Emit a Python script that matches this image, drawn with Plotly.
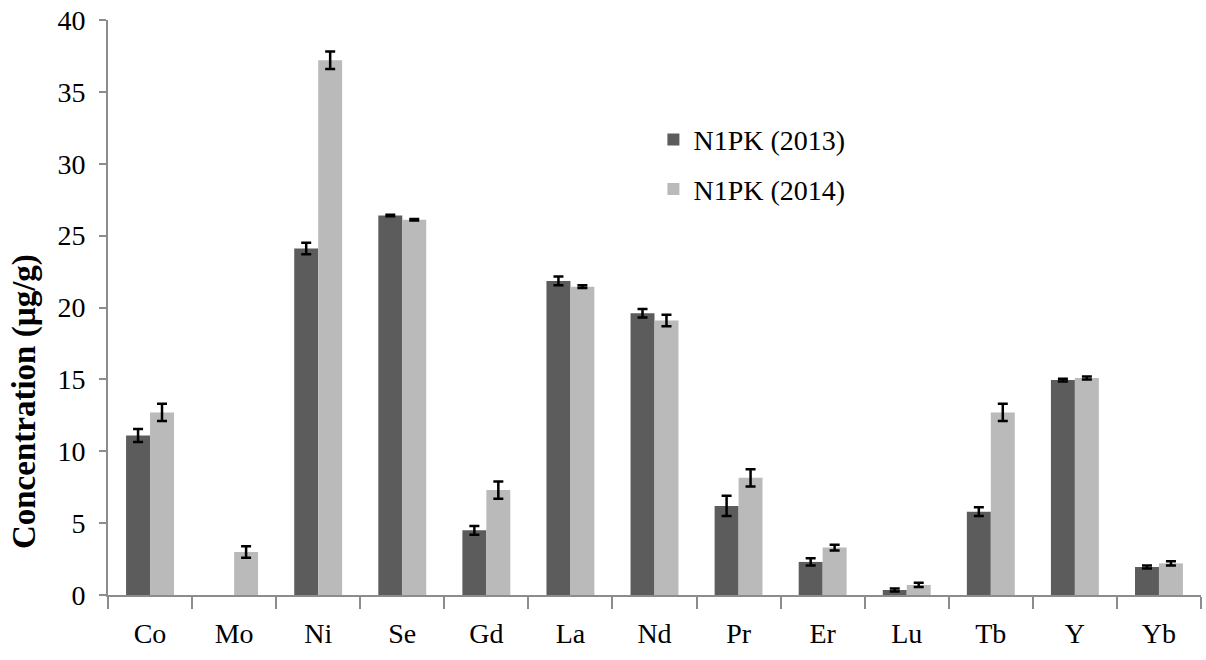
import plotly.graph_objects as go

categories = ["Co", "Mo", "Ni", "Se", "Gd", "La", "Nd", "Pr", "Er", "Lu", "Tb", "Y", "Yb"]
vals_2013 = [11.1, None, 24.1, 26.4, 4.5, 21.85, 19.6, 6.2, 2.3, 0.35, 5.8, 14.95, 1.95]
err_2013 = [0.45, None, 0.4, 0.05, 0.3, 0.3, 0.3, 0.7, 0.25, 0.1, 0.3, 0.1, 0.1]
vals_2014 = [12.7, 3.0, 37.2, 26.1, 7.3, 21.45, 19.1, 8.15, 3.3, 0.7, 12.7, 15.1, 2.2]
err_2014 = [0.6, 0.4, 0.6, 0.05, 0.6, 0.1, 0.4, 0.6, 0.2, 0.15, 0.6, 0.1, 0.15]
y_ticks = [0, 5, 10, 15, 20, 25, 30, 35, 40]

font_family = "Liberation Serif"

fig = go.Figure()
fig.add_trace(go.Bar(
    x=categories, y=vals_2013, name="N1PK (2013)",
    marker=dict(color="#5c5c5c", line=dict(width=0)),
    error_y=dict(type="data", array=err_2013, color="black", thickness=2.5, width=5),
    legendgroup="a",
))
fig.add_trace(go.Bar(
    x=categories, y=vals_2014, name="N1PK (2014)",
    marker=dict(color="#bababa", line=dict(width=0)),
    error_y=dict(type="data", array=err_2014, color="black", thickness=2.5, width=5),
    legendgroup="b",
))

fig.update_layout(
    width=1206, height=660,
    margin=dict(l=108, r=5, t=20, b=65),
    paper_bgcolor="white", plot_bgcolor="white",
    barmode="group", bargap=0.43, bargroupgap=0,
    font=dict(family=font_family, size=28, color="black"),
    showlegend=True,
    legend=dict(
        x=0.499, y=0.835, xanchor="left", yanchor="top",
        font=dict(family=font_family, size=28, color="black"),
        traceorder="grouped", tracegroupgap=10,
        bgcolor="rgba(0,0,0,0)",
    ),
    xaxis=dict(
        type="category",
        showline=True, linecolor="#8c8c8c", linewidth=2,
        ticks="outside", tickson="boundaries", ticklen=12, tickwidth=2, tickcolor="#8c8c8c",
        ticklabelstandoff=12,
        tickfont=dict(family=font_family, size=28, color="black"),
        showgrid=False, zeroline=False,
    ),
    yaxis=dict(
        range=[0, 40], tickvals=y_ticks,
        showline=True, linecolor="#8c8c8c", linewidth=2,
        ticks="outside", ticklen=7, tickwidth=2, tickcolor="#8c8c8c",
        ticklabelstandoff=8,
        tickfont=dict(family=font_family, size=28, color="black"),
        showgrid=False, zeroline=False,
    ),
    annotations=[dict(
        text="<b>Concentration (µg/g)</b>",
        xref="paper", yref="paper",
        x=-0.077, y=0.337, xanchor="center", yanchor="middle",
        textangle=-90, showarrow=False,
        font=dict(family=font_family, size=33, color="black"),
    )],
)

fig.write_html("out.html")
